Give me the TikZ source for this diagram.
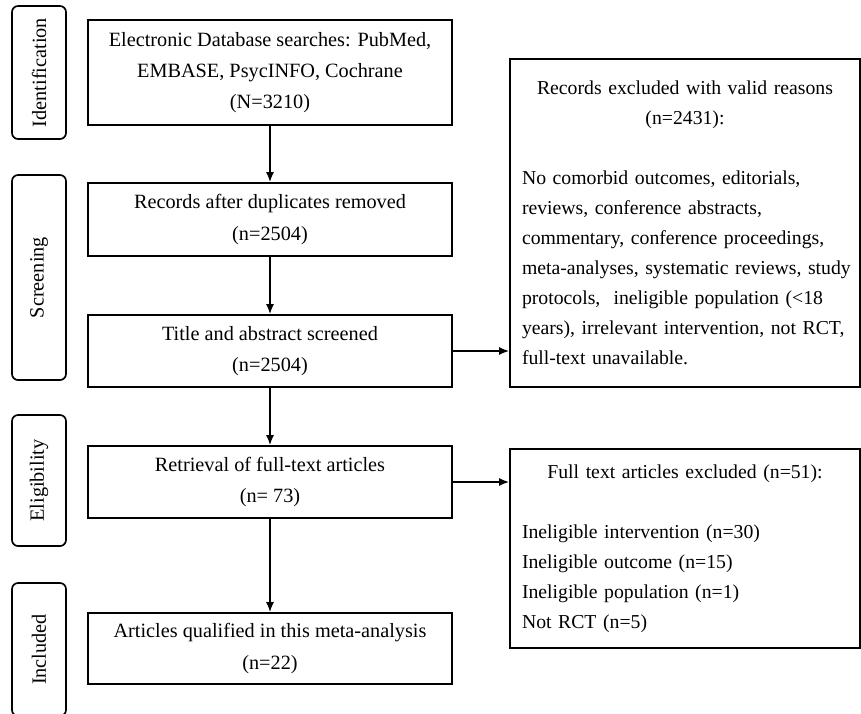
\documentclass[tikz,border=0pt]{standalone}
\usepackage{fontspec}
\setmainfont{Liberation Serif}
\usetikzlibrary{arrows.meta}
\begin{document}
\begin{tikzpicture}[
			x=0.75pt, y=-0.75pt,
			font=\fontsize{15.2}{23.5}\selectfont,
			every path/.style={line width=1.25pt},
			stage/.style={draw, rounded corners=4.5pt, rotate=90, inner sep=0pt, minimum height=40.5pt},
			box/.style={draw, align=center, inner sep=0pt, minimum width=273pt},
			exclbox/.style={draw, align=left, inner xsep=0pt, inner ysep=9pt, text width=262.5pt,
				font=\fontsize{14.8}{22.5}\selectfont},
			arr/.style={-{Latex[length=7.5pt,width=6pt]}}
		]
		\useasboundingbox (0,0) rectangle (861,714);
		% stages
		\node[stage, minimum width=99.75pt] (sid) at (39,72.5) {Identification};
		\node[stage, minimum width=153.75pt] (sscr) at (39,277.5) {Screening};
		\node[stage, minimum width=98.25pt] (selig) at (39,480.5) {Eligibility};
		\node[stage, minimum width=99.75pt] (sinc) at (39,649.5) {Included};
		% main flow
		\node[box, minimum height=78.75pt] (search) at (270,72.5)
			{Electronic Database searches: PubMed,\\EMBASE, PsycINFO, Cochrane\\(N=3210)};
		\node[box, minimum height=54.75pt] (dup) at (270,219.5)
			{Records after duplicates removed\\(n=2504)};
		\node[box, minimum height=54pt] (screen) at (270,351)
			{Title and abstract screened\\(n=2504)};
		\node[box, minimum height=54pt] (full) at (270,482)
			{Retrieval of full-text articles\\(n= 73)};
		\node[box, minimum height=53.25pt] (incl) at (270,648.5)
			{Articles qualified in this meta-analysis\\(n=22)};
		% exclusions
		\node[exclbox, minimum height=246pt] (excla) at (685,223)
			{{\centering Records excluded with valid reasons\\(n=2431):\par}
			\vspace{22.5pt}\leftskip=9pt
			No comorbid outcomes, editorials,\\
			reviews, conference abstracts,\\
			commentary, conference proceedings,\\
			meta-analyses, systematic reviews, study\\
			protocols,\ \ ineligible population (<18\\
			years), irrelevant intervention, not RCT,\\
			full-text unavailable.\par};
		\node[exclbox, minimum height=149.25pt] (exclb) at (685,548.5)
			{{\centering Full text articles excluded (n=51):\par}
			\vspace{22.5pt}\leftskip=9pt
			Ineligible intervention (n=30)\\
			Ineligible outcome (n=15)\\
			Ineligible population (n=1)\\
			Not RCT (n=5)\par};
		% arrows
		\draw[arr] (search) -- (dup);
		\draw[arr] (dup) -- (screen);
		\draw[arr] (screen) -- (full);
		\draw[arr] (full) -- (incl);
		\draw[arr] (screen.east) -- (screen.east -| excla.west);
		\draw[arr] (full.east) -- (full.east -| exclb.west);
	\end{tikzpicture}
\end{document}
